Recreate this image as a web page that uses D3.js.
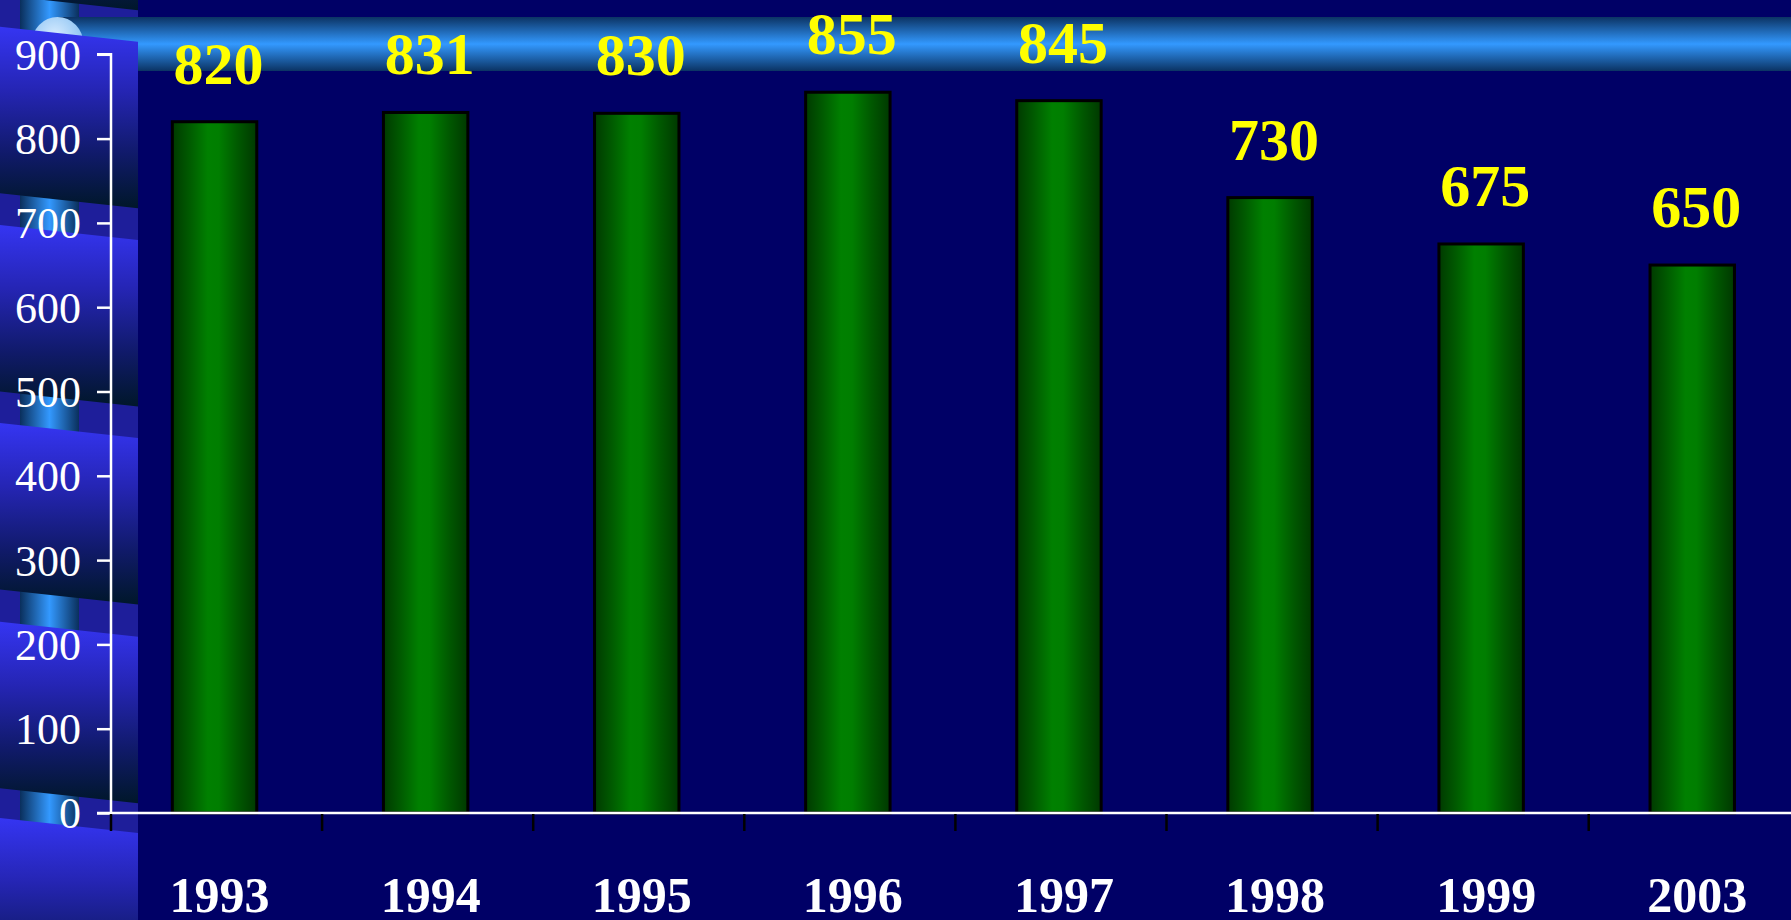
<!DOCTYPE html>
<html>
<head>
<meta charset="utf-8">
<script src="https://cdn.jsdelivr.net/npm/d3@7"></script>
<style>
  html, body { margin: 0; padding: 0; background: #000066; overflow: hidden; }
  svg { display: block; }
</style>
</head>
<body>
<svg id="chart" width="1791" height="920"></svg>
<script>
// ---- data ----
const years = ["1993", "1994", "1995", "1996", "1997", "1998", "1999", "2003"];
const values = [820, 831, 830, 855, 845, 730, 675, 650];
const yTickValues = [0, 100, 200, 300, 400, 500, 600, 700, 800, 900];

// ---- layout ----
const W = 1791, H = 920;
const axisX0 = 111, axisY0 = 813, axisYTop = 54.3;
const step = 211.1;
const svg = d3.select("#chart");
const defs = svg.append("defs");

function linGrad(id, x1, y1, x2, y2, stops) {
  const g = defs.append("linearGradient").attr("id", id)
    .attr("x1", x1).attr("y1", y1).attr("x2", x2).attr("y2", y2);
  stops.forEach(s => g.append("stop").attr("offset", s[0]).attr("stop-color", s[1]));
}
linGrad("segGrad", 0, 0, 0, 1, [[0, "#3535f2"], [0.35, "#2525b4"], [0.7, "#101a6a"], [1, "#00172a"]]);
linGrad("cylGrad", 0, 0, 1, 0, [[0, "#0a2f5c"], [0.5, "#3399ff"], [1, "#0a2f5c"]]);
linGrad("tubeGrad", 0, 0, 0, 1, [[0, "#0b3363"], [0.5, "#3399ff"], [1, "#0b3363"]]);
linGrad("barGrad", 0, 0, 1, 0, [[0, "#003a00"], [0.2, "#005a00"], [0.42, "#008000"], [0.55, "#007e00"], [0.78, "#005800"], [1, "#003800"]]);
const rg = defs.append("radialGradient").attr("id", "capGrad").attr("cx", 0.45).attr("cy", 0.35).attr("r", 0.7);
rg.append("stop").attr("offset", 0).attr("stop-color", "#d8ecff");
rg.append("stop").attr("offset", 1).attr("stop-color", "#78b8f0");

// layers
const bgLayer = svg.append("g");
const panelLayer = svg.append("g");
const tubeLayer = svg.append("g");
const segLayer = svg.append("g");
const chartLayer = svg.append("g");

// background
bgLayer.append("rect").attr("width", W).attr("height", H).attr("fill", "#000066");

// ---- left decorative panel ----
const panelW = 138;
panelLayer.append("rect").attr("x", 0).attr("y", 0).attr("width", panelW).attr("height", H).attr("fill", "#1e1e9a");
panelLayer.append("rect").attr("x", 20).attr("y", 0).attr("width", 59).attr("height", H).attr("fill", "url(#cylGrad)");

// horizontal tube with cap
tubeLayer.append("rect").attr("x", 57).attr("y", 17).attr("width", W - 57).attr("height", 54).attr("fill", "url(#tubeGrad)");
tubeLayer.append("ellipse").attr("cx", 57.5).attr("cy", 44).attr("rx", 26).attr("ry", 27).attr("fill", "url(#capGrad)");

// slanted segments
const segTops = [-171.3, 26.7, 225, 423, 621.7, 818];
const segH = 166.5, slant = 15;
segLayer.selectAll("path").data(segTops).join("path")
  .attr("d", t => `M0,${t} L${panelW},${t + slant} L${panelW},${t + slant + segH} L0,${t + segH} Z`)
  .attr("fill", "url(#segGrad)");

// ---- scales ----
const x = d3.scaleBand().domain(years)
  .range([axisX0, axisX0 + step * years.length])
  .paddingInner(0.6).paddingOuter(0.3);
const y = d3.scaleLinear().domain([0, 900]).range([axisY0, axisYTop]);

// ---- bars ----
chartLayer.append("g").selectAll("rect").data(values).join("rect")
  .attr("x", (d, i) => x(years[i]) - 2)
  .attr("y", d => y(d))
  .attr("width", x.bandwidth())
  .attr("height", d => y(0) - y(d))
  .attr("fill", "url(#barGrad)")
  .attr("stroke", "#000")
  .attr("stroke-width", 3);

// ---- y axis ----
const yAxis = d3.axisLeft(y).tickValues(yTickValues).tickSize(14).tickPadding(16).tickFormat(d3.format("d"));
const yG = chartLayer.append("g").attr("transform", `translate(${axisX0},0)`).call(yAxis);
yG.select(".domain").attr("stroke", "#fff").attr("stroke-width", 2.5).attr("d", `M-14,${axisYTop}H0V${axisY0}H-14`);
yG.selectAll(".tick line").attr("stroke", "#fff").attr("stroke-width", 2.5);
yG.selectAll(".tick text")
  .attr("fill", "#fff")
  .attr("font-family", "'Times New Roman', 'Liberation Serif', serif")
  .attr("font-size", 44)
  .attr("dy", "0.34em");

// ---- x axis ----
const xG = chartLayer.append("g").attr("transform", `translate(0,${axisY0})`);
xG.append("line").attr("x1", axisX0).attr("x2", W).attr("y1", 0).attr("y2", 0)
  .attr("stroke", "#fff").attr("stroke-width", 2.5);
xG.selectAll("line.tk").data(years).join("line").attr("class", "tk")
  .attr("x1", d => x(d) - x.step() * 0.3)
  .attr("x2", d => x(d) - x.step() * 0.3)
  .attr("y1", 1).attr("y2", 18)
  .attr("stroke", "#000").attr("stroke-width", 2.5);
xG.selectAll("text").data(years).join("text")
  .attr("x", d => x(d) + x.bandwidth() / 2 + 3)
  .attr("y", 99)
  .attr("text-anchor", "middle")
  .attr("fill", "#fff")
  .attr("font-family", "'Times New Roman', 'Liberation Serif', serif")
  .attr("font-weight", "bold")
  .attr("font-size", 50)
  .text(d => d);

// ---- value labels ----
chartLayer.append("g").selectAll("text").data(values).join("text")
  .attr("x", (d, i) => x(years[i]) + x.bandwidth() / 2 + 2)
  .attr("y", d => y(d) - 38)
  .attr("text-anchor", "middle")
  .attr("fill", "#ffff00")
  .attr("font-family", "'Times New Roman', 'Liberation Serif', serif")
  .attr("font-weight", "bold")
  .attr("font-size", 60)
  .text(d => d);
</script>
</body>
</html>
